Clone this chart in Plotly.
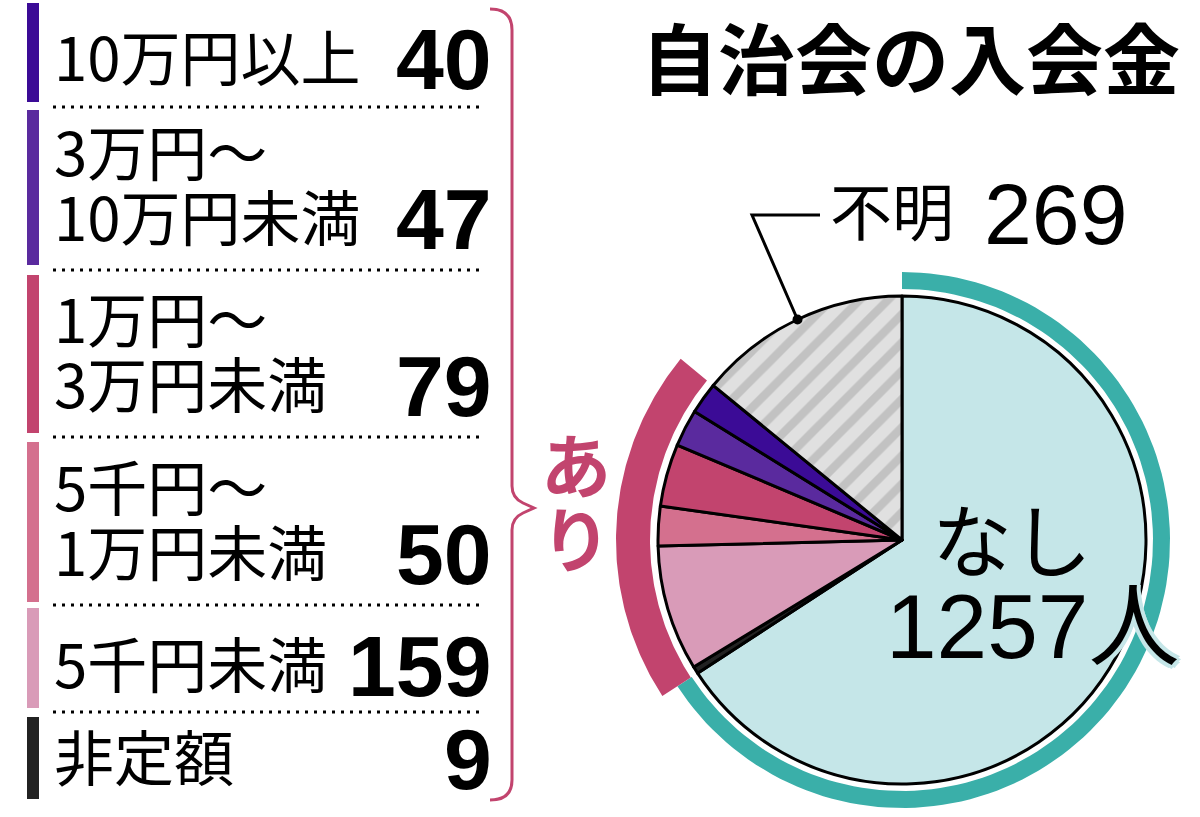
import numpy as np
import plotly.graph_objects as go

# ---------------- data ----------------
slice_labels = ["なし", "非定額", "5千円未満", "5千円～1万円未満", "1万円～3万円未満",
                "3万円～10万円未満", "10万円以上", "不明"]
slice_values = [1257, 9, 159, 50, 79, 47, 40, 269]
slice_colors = ["#c5e6e8", "#222222", "#d99bb8", "#d4708e", "#c2446e",
                "#5a2a9e", "#3b0b96", "#e0e0e0"]

legend_line1 = ["10万円以上", "3万円〜", "1万円〜", "5千円〜", "5千円未満", "非定額"]
legend_line2 = ["", "10万円未満", "3万円未満", "1万円未満", "", ""]
legend_values = [40, 47, 79, 50, 159, 9]
legend_colors = ["#3b0b96", "#5a2a9e", "#c2446e", "#d4708e", "#d99bb8", "#222222"]

title_text = "自治会の入会金"
none_label = "なし"
none_unit = "人"
unknown_label = "不明"
ari_label = "あり"

# ---------------- layout geometry (pixels) ----------------
W, H = 1200, 817
CX, CY, R = 902, 540, 244
TEAL = "#3aafa9"
CRIM = "#c2446e"
JP = "Noto Sans CJK JP"
NUM = "Liberation Sans"

fig = go.Figure()

# main pie
fig.add_trace(go.Pie(
    labels=slice_labels, values=slice_values, sort=False,
    direction="clockwise", rotation=0,
    marker=dict(colors=slice_colors, line=dict(color="black", width=3),
                pattern=dict(shape=[""] * 7 + ["/"],
                             fgcolor=["#000"] * 7 + ["#c2c2c2"],
                             bgcolor=slice_colors,
                             size=20, solidity=0.42)),
    textinfo="none", hoverinfo="label+value", showlegend=False,
    domain=dict(x=[(CX - R) / W, (CX + R) / W], y=[1 - (CY + R) / H, 1 - (CY - R) / H]),
))

# ring arcs computed from the data
total = sum(slice_values)
cum = np.cumsum([0] + slice_values) / total * 360.0


def ring(a0, a1, r0, r1, color):
    th = np.radians(np.linspace(a0, a1, 120))
    xs = np.concatenate([CX + r1 * np.sin(th), CX + r0 * np.sin(th[::-1])])
    ys = np.concatenate([CY - r1 * np.cos(th), CY - r0 * np.cos(th[::-1])])
    fig.add_trace(go.Scatter(x=np.append(xs, xs[0]), y=np.append(ys, ys[0]),
                             fill="toself", fillcolor=color, mode="lines",
                             line=dict(width=0, color=color), hoverinfo="skip",
                             showlegend=False))


ring(cum[0], cum[1], 251, 268, TEAL)       # なし
ring(cum[1], cum[7], 252, 286, CRIM)       # あり

shapes = []
annotations = []

# legend colour bars and dotted separators
bar_spans = [(3, 102), (110, 265), (275, 433), (442, 602), (608, 708), (717, 799)]
line1_y = [54, 149, 316, 484, 661, 754]
line2_y = [None, 214, 381, 549, None, None]
sep_y = [107, 270, 437, 605, 712]

for (y0, y1), c in zip(bar_spans, legend_colors):
    shapes.append(dict(type="rect", xref="x", yref="y", x0=27, x1=39, y0=y0, y1=y1,
                       fillcolor=c, line=dict(width=0)))
for sy in sep_y:
    fig.add_trace(go.Scatter(x=[53, 480], y=[sy, sy], mode="lines",
                             line=dict(color="black", width=3, dash="3px,6px"),
                             hoverinfo="skip", showlegend=False))

for i in range(6):
    annotations.append(dict(x=52, y=line1_y[i], xref="x", yref="y", text=legend_line1[i],
                            showarrow=False, xanchor="left", yanchor="middle",
                            font=dict(family=JP, size=60, color="black")))
    vy = line1_y[i]
    if legend_line2[i]:
        annotations.append(dict(x=52, y=line2_y[i], xref="x", yref="y", text=legend_line2[i],
                                showarrow=False, xanchor="left", yanchor="middle",
                                font=dict(family=JP, size=60, color="black")))
        vy = line2_y[i]
    annotations.append(dict(x=494, y=vy + 5, xref="x", yref="y", text=str(legend_values[i]),
                            showarrow=False, xanchor="right", yanchor="middle",
                            font=dict(family=NUM, size=86, color="black", weight="bold")))

# brace
shapes.append(dict(type="path", xref="x", yref="y", layer="above",
                   path="M 490 9 Q 512 9 512 30 L 512 486 Q 512 498 523 503 L 534 508 "
                        "L 523 513 Q 512 518 512 530 L 512 780 Q 512 800 490 800",
                   line=dict(color=CRIM, width=3)))

# あり
annotations.append(dict(x=576, y=462, xref="x", yref="y", text=ari_label[0], showarrow=False,
                        font=dict(family=JP, size=70, color=CRIM, weight="bold")))
annotations.append(dict(x=576, y=536, xref="x", yref="y", text=ari_label[1], showarrow=False,
                        font=dict(family=JP, size=70, color=CRIM, weight="bold")))

# title
annotations.append(dict(x=910, y=55, xref="x", yref="y", text=title_text, showarrow=False,
                        font=dict(family=JP, size=77, color="black", weight="bold")))

# 不明 label with leader line to the middle of its slice
mid = np.radians((cum[7] + cum[8]) / 2)
dx, dy = CX + R * np.sin(mid), CY - R * np.cos(mid)
shapes.append(dict(type="path", xref="x", yref="y", layer="above",
                   path=f"M 820 215 L 752 215 L {dx:.1f} {dy:.1f}",
                   line=dict(color="black", width=3)))
shapes.append(dict(type="circle", xref="x", yref="y", layer="above",
                   x0=dx - 5, x1=dx + 5, y0=dy - 5, y1=dy + 5,
                   fillcolor="black", line=dict(width=0)))
annotations.append(dict(x=828, y=209, xref="x", yref="y", text=unknown_label, showarrow=False,
                        xanchor="left", yanchor="middle",
                        font=dict(family=JP, size=62, color="black")))
annotations.append(dict(x=1130, y=214, xref="x", yref="y", text=str(slice_values[7]),
                        showarrow=False, xanchor="right", yanchor="middle",
                        font=dict(family=NUM, size=86, color="black")))

# なし 1257人
halo = "#c5e6e8"
sh = ", ".join(f"{a}px {b}px 0 {halo}" for a, b in
               [(4, 0), (-4, 0), (0, 4), (0, -4), (3, 3), (-3, 3), (3, -3), (-3, -3)])
annotations.append(dict(x=1012, y=536, xref="x", yref="y", text=none_label, showarrow=False,
                        font=dict(family=JP, size=80, color="black")))
annotations.append(dict(x=1032, y=626, xref="x", yref="y",
                        text=f"{slice_values[0]}{none_unit}", showarrow=False,
                        font=dict(family=f"{NUM}, {JP}", size=91, color="black", shadow=sh)))

fig.update_layout(
    width=W, height=H, autosize=False,
    margin=dict(l=0, r=0, t=0, b=0),
    paper_bgcolor="white", plot_bgcolor="white",
    xaxis=dict(range=[0, W], visible=False, fixedrange=True),
    yaxis=dict(range=[H, 0], visible=False, fixedrange=True),
    shapes=shapes, annotations=annotations, showlegend=False,
)

fig.write_html("out.html", config={"displayModeBar": False},
               post_script="document.body.style.margin='0px';")
